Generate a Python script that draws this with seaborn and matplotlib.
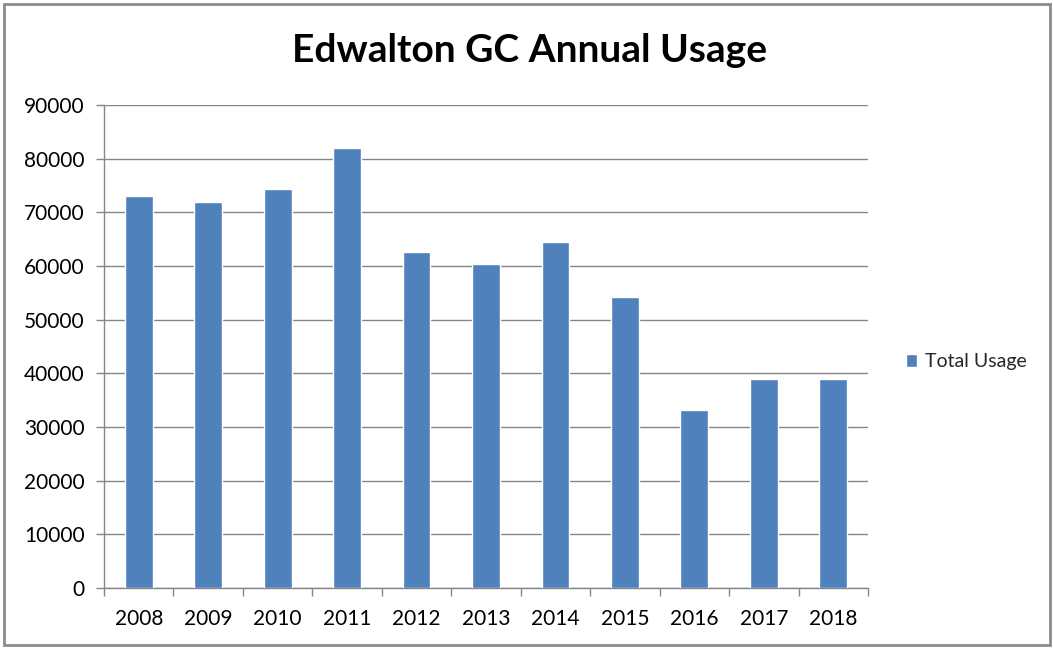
import matplotlib
matplotlib.use("Agg")
import matplotlib.pyplot as plt
import seaborn as sns
import pandas as pd
from matplotlib.patches import Rectangle

years = ['2008', '2009', '2010', '2011', '2012', '2013', '2014', '2015', '2016', '2017', '2018']
usage = [73000, 72000, 74400, 82000, 62600, 60300, 64400, 54300, 33200, 39000, 39000]
series_name = 'Total Usage'
title = 'Edwalton GC Annual Usage'

sns.set_style('white')
plt.rcParams['font.family'] = ['Lato', 'DejaVu Sans']

bar_color = '#4F81BD'
axis_gray = '#868686'

df = pd.DataFrame({'year': years, 'usage': usage})

fig = plt.figure(figsize=(10.53, 6.48), dpi=100)
ax = fig.add_axes([104 / 1053, 1 - 588 / 648, (868 - 104) / 1053, (588 - 105) / 648])

sns.barplot(data=df, x='year', y='usage', color=bar_color, width=0.4,
            saturation=1, label=series_name, ax=ax, zorder=3)

ax.set_xlim(-0.5, len(years) - 0.5)
ax.set_ylim(0, 90000)
ax.set_yticks(range(0, 90001, 10000))
ax.set_xlabel('')
ax.set_ylabel('')

# gridlines and axes in Excel-like grey
ax.grid(True, axis='y', color=axis_gray, linewidth=1, zorder=0)
ax.grid(False, axis='x')
for side in ['top', 'right']:
    ax.spines[side].set_visible(False)
for side in ['left', 'bottom']:
    ax.spines[side].set_color(axis_gray)
    ax.spines[side].set_linewidth(1)

ax.tick_params(axis='y', length=6, width=1, color=axis_gray, pad=8,
               labelsize=15, labelcolor='#000000', left=True)
ax.tick_params(axis='x', which='major', length=0, pad=15,
               labelsize=15, labelcolor='#000000')
ax.set_xticks([i - 0.5 for i in range(len(years) + 1)], minor=True)
ax.tick_params(axis='x', which='minor', length=6, width=1, color=axis_gray, bottom=True)

leg = ax.legend(loc='center left', bbox_to_anchor=(896 / 1053, 1 - 362 / 648),
                bbox_transform=fig.transFigure, frameon=False, fontsize=14,
                handlelength=0.6, handleheight=0.6, handletextpad=0.4, borderpad=0)

fig.text(0.503, 1 - 50 / 648, title, ha='center', va='center',
         fontsize=28, fontweight='bold', color='#000000')

# outer chart border
fig.patches.append(Rectangle((4 / 1053, 3 / 648), 1046 / 1053, 641 / 648,
                             transform=fig.transFigure, fill=False,
                             edgecolor='#8C8C8C', linewidth=2))

fig.savefig('out.png', dpi=100)
